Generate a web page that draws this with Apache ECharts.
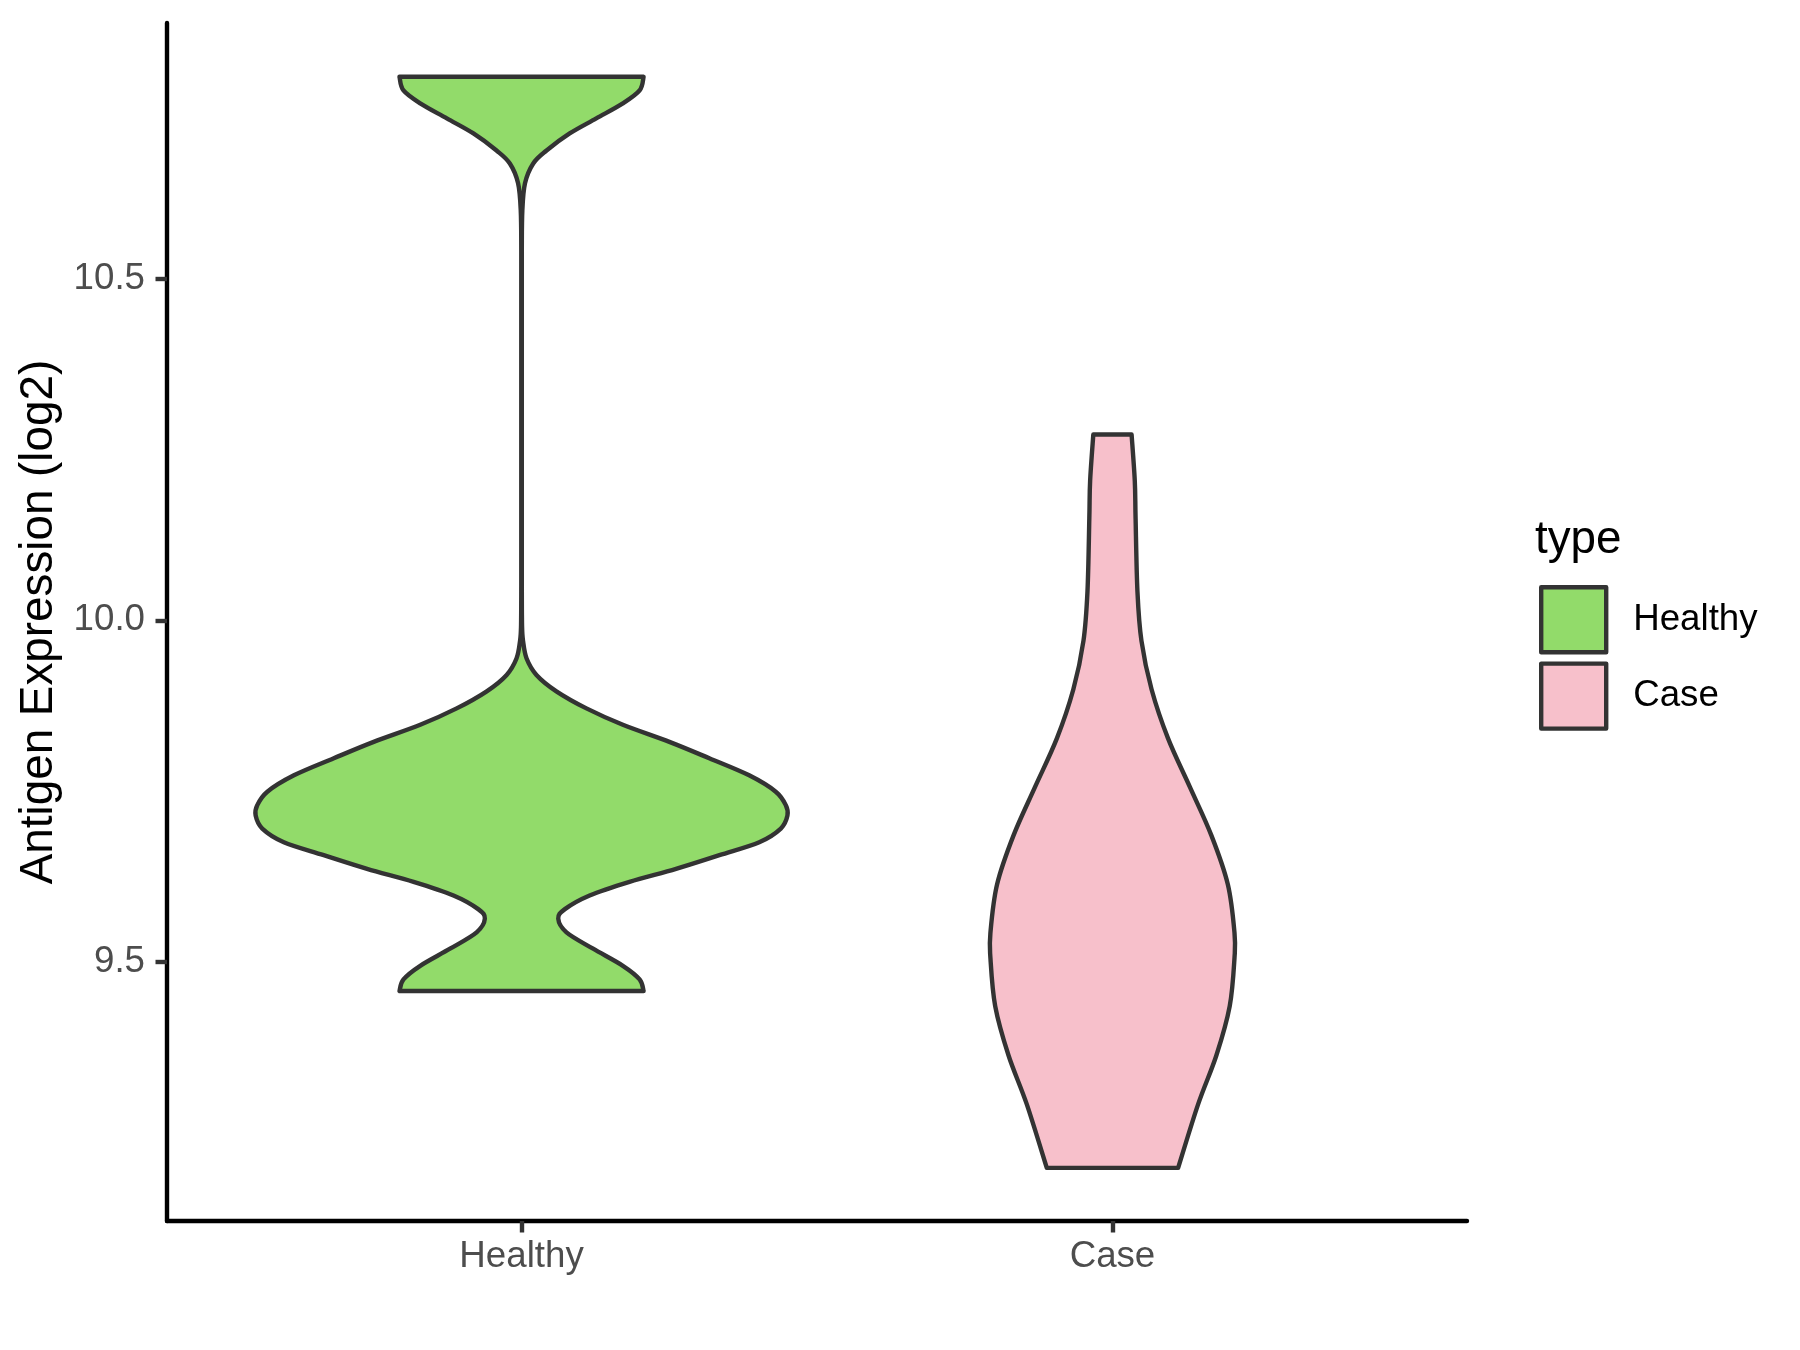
<!DOCTYPE html>
<html>
<head>
<meta charset="utf-8">
<script src="https://cdn.jsdelivr.net/npm/echarts@6/dist/echarts.min.js"></script>
<style>
html,body{margin:0;padding:0;background:#fff;}
#chart{width:1800px;height:1350px;}
</style>
</head>
<body>
<div id="chart"></div>
<script>
// ---- data ----
const categories = ['Healthy', 'Case'];
const legendTitle = 'type';
const yAxisTitle = 'Antigen Expression (log2)';
const yTicks = [9.5, 10.0, 10.5];

// violin profiles: expression value (log2) and scaled density (1 = widest)
const healthyY = [10.796, 10.776, 10.757, 10.735, 10.713, 10.688, 10.669, 10.640, 10.600, 10.540,
  10.400, 10.200, 10.050, 9.990, 9.969, 9.944, 9.920, 9.896, 9.871, 9.847,
  9.822, 9.798, 9.773, 9.749, 9.729, 9.714, 9.695, 9.675, 9.656, 9.636,
  9.617, 9.597, 9.577, 9.563, 9.543, 9.519, 9.494, 9.474, 9.457];
const healthyDensity = [0.459, 0.444, 0.381, 0.281, 0.181, 0.094, 0.044, 0.013, 0.003, 0.001,
  0.001, 0.001, 0.001, 0.002, 0.006, 0.019, 0.056, 0.131, 0.244, 0.381,
  0.556, 0.706, 0.856, 0.956, 0.994, 1.000, 0.975, 0.894, 0.744, 0.581,
  0.406, 0.256, 0.163, 0.138, 0.169, 0.269, 0.381, 0.444, 0.459];

const caseY = [10.272, 10.204, 10.149, 10.042, 9.970, 9.899, 9.827, 9.756, 9.685, 9.613,
  9.542, 9.506, 9.435, 9.363, 9.291, 9.198];
const caseDensity = [0.072, 0.084, 0.087, 0.094, 0.109, 0.147, 0.209, 0.291, 0.372, 0.434,
  0.459, 0.459, 0.441, 0.391, 0.322, 0.247];

const colors = ['#92DB6A', '#F7C0CB'];
</script>
<script>
const FONT = 'Liberation Sans, Arial, Helvetica, sans-serif';
const HALF_WIDTH = 0.45; // violin width 0.9 in category units
const LW = 4.4;

const profiles = [
  {y: healthyY, d: healthyDensity},
  {y: caseY, d: caseDensity}
];

function crPath(pts) {
  // Catmull-Rom through pts -> cubic bezier segments
  let s = '';
  for (let i = 0; i < pts.length - 1; i++) {
    const p0 = pts[Math.max(0, i - 1)];
    const p1 = pts[i];
    const p2 = pts[i + 1];
    const p3 = pts[Math.min(pts.length - 1, i + 2)];
    const c1x = p1[0] + (p2[0] - p0[0]) / 6, c1y = p1[1] + (p2[1] - p0[1]) / 6;
    const c2x = p2[0] - (p3[0] - p1[0]) / 6, c2y = p2[1] - (p3[1] - p1[1]) / 6;
    s += ' C' + c1x.toFixed(2) + ',' + c1y.toFixed(2) + ' ' + c2x.toFixed(2) + ',' + c2y.toFixed(2) + ' ' + p2[0].toFixed(2) + ',' + p2[1].toFixed(2);
  }
  return s;
}

function makeRenderItem(k) {
  return function (params, api) {
    if (params.dataIndex !== 0) return null;
    const prof = profiles[k];
    const c = k + 1;
    const left = prof.y.map((v, i) => api.coord([c - prof.d[i] * HALF_WIDTH, v]));
    const right = prof.y.map((v, i) => api.coord([c + prof.d[i] * HALF_WIDTH, v])).reverse();
    let path = 'M' + left[0][0].toFixed(2) + ',' + left[0][1].toFixed(2);
    path += crPath(left);
    path += ' L' + right[0][0].toFixed(2) + ',' + right[0][1].toFixed(2);
    path += crPath(right);
    path += ' Z';
    return {
      type: 'path',
      shape: {pathData: path},
      style: {fill: colors[k], stroke: '#333333', lineWidth: LW, lineJoin: 'round'}
    };
  };
}

const chart = echarts.init(document.getElementById('chart'), null, {renderer: 'canvas'});

const series = categories.map((name, k) => ({
  name: name,
  type: 'custom',
  coordinateSystem: 'cartesian2d',
  renderItem: makeRenderItem(k),
  itemStyle: {color: colors[k]},
  data: profiles[k].y.map((v, i) => [k + 1, v, profiles[k].d[i]]),
  encode: {x: 0, y: 1},
  silent: true,
  z: 2
}));

const option = {
  animation: false,
  backgroundColor: '#ffffff',
  textStyle: {fontFamily: FONT},
  grid: {left: 167, right: 333, top: 23, bottom: 129, containLabel: false},
  xAxis: {
    type: 'value',
    min: 0.4,
    max: 2.6,
    splitLine: {show: false},
    axisLine: {show: true, onZero: false, lineStyle: {color: '#000000', width: LW}},
    axisTick: {show: true, customValues: [1, 2], length: 11.5, lineStyle: {color: '#333333', width: LW}},
    axisLabel: {
      show: true, customValues: [1, 2], margin: 17,
      formatter: v => categories[Math.round(v) - 1] || '',
      fontSize: 36.7, color: '#4D4D4D', fontFamily: FONT
    }
  },
  yAxis: {
    type: 'value',
    min: 9.12025,
    max: 10.87475,
    splitLine: {show: false},
    axisLine: {show: true, onZero: false, lineStyle: {color: '#000000', width: LW}},
    axisTick: {show: true, customValues: yTicks, length: 11.5, lineStyle: {color: '#333333', width: LW}},
    axisLabel: {
      show: true, customValues: yTicks, margin: 22,
      formatter: v => Number(v).toFixed(1),
      fontSize: 36.7, color: '#4D4D4D', fontFamily: FONT
    }
  },
  legend: {
    orient: 'vertical',
    left: 1539,
    top: 585,
    padding: 0,
    itemWidth: 65,
    itemHeight: 65,
    itemGap: 7,
    selectedMode: false,
    textStyle: {fontSize: 36.7, color: '#000000', fontFamily: FONT, padding: [0, 0, 0, 22]},
    data: categories.map((name, k) => ({
      name: name,
      icon: 'rect',
      itemStyle: {color: colors[k], borderColor: '#333333', borderWidth: LW, borderJoin: 'round'}
    }))
  },
  graphic: [
    {
      type: 'text', left: 1535, top: 517,
      style: {text: legendTitle, fontSize: 45.8, fill: '#000000', fontFamily: FONT}
    },
    {
      type: 'text', x: 39, y: 622, rotation: Math.PI / 2,
      style: {text: yAxisTitle, fontSize: 45.8, fill: '#000000', fontFamily: FONT, align: 'center', verticalAlign: 'middle'}
    }
  ],
  series: series
};

chart.setOption(option);
</script>
</body>
</html>
